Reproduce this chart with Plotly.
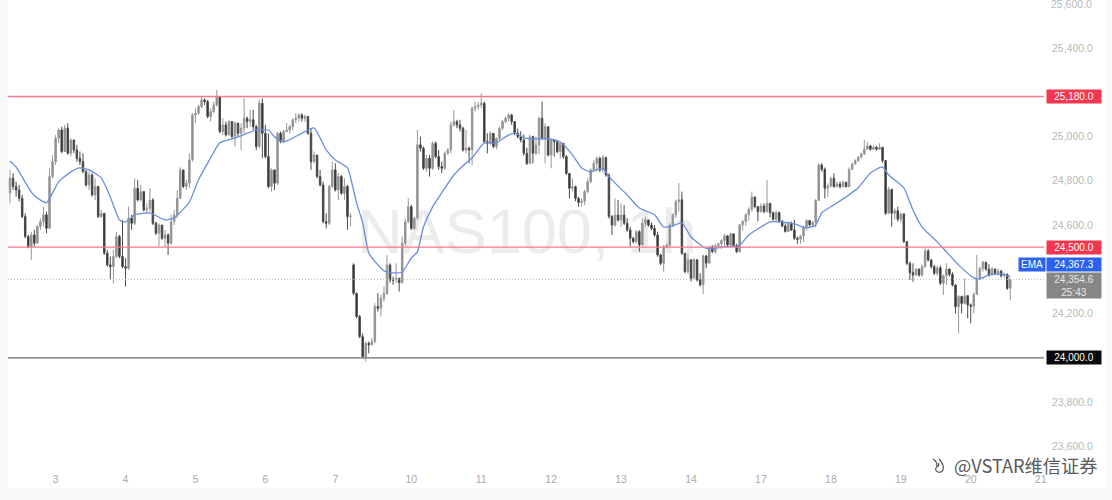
import plotly.graph_objects as go

closes = [24811,24774,24758,24721,24638,24548,24503,24555,24518,24593,
24615,24646,24585,24819,24886,24992,25029,24932,25037,24924,
24984,24939,24901,24886,24841,24781,24826,24736,24774,24638,
24653,24473,24420,24412,24458,24548,24458,24412,24405,24631,
24608,24766,24713,24751,24668,24676,24713,24608,24563,24600,
24540,24555,24518,24615,24646,24721,24849,24774,24789,24894,
25097,25105,25135,25165,25157,25090,25112,25142,25180,25022,
25052,25007,25067,25000,25060,25014,25037,25082,25067,25075,
25044,24954,25150,25014,24909,24774,24849,24789,25014,24977,
25022,25029,25044,25075,25082,25097,25082,25090,25014,24886,
24916,24819,24781,24615,24608,24774,24849,24758,24819,24743,
24774,24638,24641,
24292,24187,24096,24006,24066,24059,24074,24232,24224,24269,24292,
24420,24352,24352,24360,24340,24518,24615,24683,24585,24631,
24962,24947,24856,24901,24856,24969,24909,24864,24856,24924,
24939,25052,25067,25052,25037,24939,24947,24939,25127,25135,
25142,25150,24977,24969,25014,24954,24992,25037,25067,25082,
25097,25067,
25014,24999,24984,24924,24878,24999,24924,24961,25082,24991,
25044,24916,24984,24976,24931,24969,24909,24833,24766,24773,
24720,24702,24708,24751,24796,24848,24878,24901,24848,24904,
24826,24638,24600,24645,24623,24645,24608,24577,24540,24525,
24570,24510,24608,24623,24600,24585,24555,24465,24427,24502,
24510,24600,
24646,24706,24714,24473,24390,24443,24360,24443,24352,24330,
24461,24428,24500,24480,24506,24515,24530,24551,24510,24560,
24506,24480,24601,24616,24646,24671,24726,24683,24661,24686,
24661,24698,24656,24626,24656,24616,24596,24571,24608,24578,
24540,24536,24551,24590,24620,24601,24611,24711,
24871,24851,24766,24776,24811,24773,24785,24773,24793,24773,
24851,24875,24890,24906,24921,24943,24957,24942,24951,24942,
24951,24891,24653,24761,24653,24665,24626,24650,24525,24427,
24385,
24374,24401,24374,24412,24483,24442,24412,24382,24407,24337,
24371,24401,24377,24329,24231,24277,24246,24281,24239,24233,
24287,24356,24404,24432,24401,24374,24401,24382,24392,24371,
24377,24314,24354.6]

highs = [24849,24834,24796,24781,24736,24653,24555,24570,24578,24600,
24630,24683,24661,24856,24916,25007,25037,25044,25052,25060,
24992,24984,24962,24932,24924,24849,24841,24834,24811,24736,
24668,24646,24488,24458,24488,24570,24555,24623,24450,24683,
24646,24811,24804,24781,24751,24698,24766,24721,24615,24608,
24600,24578,24563,24646,24668,24758,24861,24811,24804,24924,
25105,25127,25142,25180,25172,25165,25127,25157,25210,25180,
25082,25067,25075,25067,25067,25052,25060,25172,25090,25120,
25120,25052,25165,25172,25052,25014,24856,24849,25022,25022,
25029,25060,25052,25082,25105,25105,25105,25097,25093,25037,
24932,24916,24849,24796,24653,24781,24886,24879,24834,24826,
24811,24781,24653,
24427,24292,24194,24111,24074,24074,24089,24247,24292,24284,24322,
24465,24427,24367,24427,24360,24548,24630,24721,24691,24638,
25029,24999,24954,24917,24917,24977,24977,24939,24886,24932,
24947,25067,25120,25075,25075,25044,25029,24954,25135,25157,
25157,25195,25157,25014,25022,24992,24992,25044,25075,25090,
25105,25102,
25067,25036,25024,25009,24949,25009,25003,24999,25089,25157,
25059,25044,24991,24979,24976,24976,24964,24916,24833,24811,
24778,24728,24720,24758,24811,24856,24893,24909,24909,24916,
24909,24833,24645,24720,24713,24698,24690,24630,24592,24547,
24577,24577,24630,24638,24623,24612,24600,24570,24468,24510,
24517,24608,
24653,24714,24789,24751,24473,24473,24413,24450,24428,24382,
24465,24461,24506,24510,24515,24521,24536,24560,24555,24566,
24563,24515,24605,24623,24653,24680,24751,24729,24686,24698,
24698,24804,24698,24661,24665,24661,24623,24608,24616,24616,
24623,24548,24555,24596,24626,24623,24619,24717,
24879,24879,24860,24788,24818,24833,24796,24796,24800,24796,
24860,24881,24897,24912,24927,24984,24976,24961,24960,24957,
24969,24946,24891,24773,24751,24675,24683,24656,24653,24525,
24435,
24427,24404,24404,24423,24495,24492,24447,24420,24417,24417,
24377,24427,24404,24386,24332,24284,24281,24359,24284,24246,
24296,24465,24412,24438,24432,24423,24412,24404,24404,24397,
24386,24382,24359]

lows = [24698,24758,24728,24706,24631,24540,24495,24442,24503,24518,
24578,24593,24563,24585,24811,24871,24969,24924,24932,24917,
24909,24924,24886,24871,24834,24774,24758,24728,24713,24631,
24631,24465,24412,24352,24337,24450,24450,24405,24322,24397,
24578,24600,24706,24706,24661,24653,24661,24600,24555,24503,
24533,24503,24465,24510,24600,24631,24721,24766,24758,24766,
24886,25060,25097,25127,25142,25082,25067,25105,25135,25014,
25007,25000,25014,24992,24954,25000,24939,25014,25037,25044,
25029,24939,24947,24901,24901,24766,24751,24758,24781,24969,
24969,25022,25014,25029,25060,25067,25067,25067,25007,24849,
24879,24811,24774,24608,24585,24600,24766,24751,24713,24736,
24713,24578,24593,
24284,24179,24089,23999,23983,24021,24059,24066,24209,24187,24254,
24284,24340,24330,24337,24299,24337,24503,24608,24578,24578,
24623,24932,24849,24841,24819,24849,24901,24849,24834,24849,
24917,24924,25044,25037,25022,24932,24924,24879,24871,25112,
25120,25127,24969,24924,24962,24947,24942,24984,25029,25060,
25067,25052,
25006,24991,24973,24913,24871,24874,24878,24916,24919,24984,
24878,24909,24856,24909,24924,24901,24898,24826,24720,24751,
24708,24683,24683,24690,24743,24788,24841,24841,24838,24838,
24818,24630,24555,24592,24615,24592,24600,24570,24502,24517,
24517,24480,24507,24592,24592,24577,24547,24457,24419,24389,
24495,24502,
24593,24631,24661,24465,24382,24379,24345,24364,24345,24322,
24289,24405,24455,24473,24470,24491,24491,24506,24503,24500,
24500,24473,24476,24575,24596,24620,24661,24676,24616,24656,
24653,24656,24635,24620,24616,24611,24590,24566,24581,24573,
24533,24515,24515,24524,24575,24590,24590,24590,
24710,24841,24720,24728,24770,24770,24770,24766,24770,24770,
24776,24851,24875,24886,24901,24916,24939,24936,24939,24936,
24939,24881,24645,24650,24593,24626,24615,24611,24520,24419,
24352,
24344,24371,24367,24367,24408,24435,24404,24374,24371,24329,
24284,24329,24367,24322,24201,24111,24201,24242,24179,24156,
24201,24284,24352,24389,24392,24367,24377,24374,24371,24362,
24362,24307,24261]

first_open = 24745
session_open_bar = 113
session_open = 24420

ema_bars = [0,2,4,7,9,12,14,16,20,23,26,30,33,36,38,41,46,51,54,59,62,66,69,74,81,85,87,90,95,100,
104,107,111,113,114,116,118,121,123,126,129,132,134,136,139,142,146,150,152,156,160,163,166,169,172,
177,181,185,188,191,195,197,203,207,212,215,218,221,224,228,230,234,240,243,247,250,253,258,262,265,
267,271,275,279,283,287,289,294,297,300,305,308,312,317,319,322,326,329]
ema_values = [24889,24862,24817,24749,24722,24700,24745,24795,24840,24858,24849,24813,24727,24623,24614,24646,24655,24623,24632,24704,
24804,24903,24971,24993,25029,25029,24998,24975,25007,25038,24939,24894,24858,24758,24700,24610,24474,24420,24393,24384,
24388,24451,24479,24591,24682,24745,24826,24880,24903,24971,24971,24998,25016,24993,24989,24989,24975,24917,24858,24840,
24858,24817,24736,24677,24646,24591,24596,24610,24546,24501,24492,24501,24510,24555,24591,24614,24614,24605,24587,24600,
24655,24691,24727,24768,24835,24862,24826,24768,24668,24591,24524,24479,24420,24361,24357,24375,24379,24367.3]

day_bars = [15,38,61,84,107,132,155,178,201,224,247,270,293,316,339]
day_labels = ["3","4","5","6","7","10","11","12","13","14","17","18","19","20","21"]
price_ticks = [25400,25000,24800,24600,24200,23800,23600]
top_price_tick = 25600
support_resistance = [25180, 24500]
floor_level = 24000
ema_last = 24367.3
last_price = 24354.6
countdown = "25:43"
symbol_text = "NAS100, 1h"
footer_text = "@VSTAR维信证券"

opens = [first_open] + closes[:-1]
opens[session_open_bar] = session_open
bars = list(range(len(closes)))

W, H = 1112, 500
L, R, T, B = 8, 1044, 0, 466
px = lambda v: (v - L) / (R - L)
py = lambda v: 1 - (v - T) / (B - T)

fig = go.Figure()
fig.add_trace(go.Candlestick(
    x=bars, open=opens, high=highs, low=lows, close=closes,
    increasing=dict(line=dict(color="#979797", width=1), fillcolor="#8c8c8c"),
    decreasing=dict(line=dict(color="#4a4a4a", width=1), fillcolor="#2e2e2e"),
    whiskerwidth=0, showlegend=False, hoverinfo="skip"))
fig.add_trace(go.Scatter(x=ema_bars, y=ema_values, mode="lines",
    line=dict(color="#6a8ddb", width=1.3, shape="spline", smoothing=0.5),
    showlegend=False, hoverinfo="skip"))

shapes = [
    dict(type="rect", xref="paper", yref="paper", x0=px(8), x1=px(1105), y0=py(0), y1=py(488),
         fillcolor="white", line=dict(width=0), layer="below"),
    dict(type="rect", xref="paper", yref="paper", x0=px(362), x1=px(692), y0=py(190), y1=py(260),
         fillcolor="rgba(0,0,0,0)", line=dict(width=0), layer="below",
         label=dict(text=symbol_text, font=dict(family="Liberation Sans", size=63, color="#ececec"),
                    textposition="middle center")),
]
for lv in support_resistance:
    shapes.append(dict(type="line", xref="paper", yref="y", x0=0, x1=1, y0=lv, y1=lv,
                       line=dict(color="#f27a8b", width=1.4)))
shapes.append(dict(type="line", xref="paper", yref="y", x0=0, x1=1, y0=floor_level, y1=floor_level,
                   line=dict(color="#6b6b6b", width=1.4)))
shapes.append(dict(type="line", xref="paper", yref="y", x0=0, x1=1, y0=last_price, y1=last_price,
                   line=dict(color="#bdbdbd", width=1, dash="1px,2px")))
# small footer logo
shapes.append(dict(type="path", xref="paper", yref="paper", xsizemode="pixel", ysizemode="pixel",
                   xanchor=px(938), yanchor=py(466),
                   path="M -5 7 C -1 5 0 0 -2 -2 C -4 -6 3 -8 5 -4 C 6 -1 5 3 1 7 M 0 -1 L 1 3",
                   line=dict(color="#444", width=1.1)))

anns = []
def tag(y, text, bg, color="white", yshift=0, x=1, width=54, xshift=2, height=13):
    anns.append(dict(xref="paper", yref="y", x=x, y=y, text=text, showarrow=False,
                     xanchor="left", yanchor="middle", xshift=xshift, yshift=yshift,
                     bgcolor=bg, width=width, height=height, align="center", borderpad=0,
                     font=dict(family="Liberation Sans", size=10, color=color)))

for lv in support_resistance:
    tag(lv, f"{lv:,.1f}", "#f2374f")
tag(floor_level, f"{floor_level:,.1f}", "#0a0a0a")
tag(ema_last, f"{ema_last:,.1f}", "#2a62f0", yshift=12)
tag(ema_last, "EMA", "#2a62f0", yshift=12, x=1, width=26, xshift=-26)
tag(last_price, f"{last_price:,.1f}<br>{countdown}", "#868686", color="#e8e8e8", yshift=-6, height=25)
anns.append(dict(xref="paper", yref="y", x=1, y=top_price_tick, text=f"{top_price_tick:,.1f}", showarrow=False,
                 xanchor="left", yanchor="middle", xshift=6, borderpad=0,
                 font=dict(family="Liberation Sans", size=10.5, color="#b8b8b8")))
anns.append(dict(xref="paper", yref="paper", x=px(952), y=py(465), text=footer_text, showarrow=False,
                 xanchor="left", yanchor="middle",
                 font=dict(family="Noto Sans CJK SC", size=18.2, color="#5a5a5a")))

fig.update_layout(
    width=W, height=H, margin=dict(l=L, r=W - R, t=T, b=H - B, pad=0),
    paper_bgcolor="#fafafa", plot_bgcolor="rgba(0,0,0,0)",
    shapes=shapes, annotations=anns, showlegend=False,
    xaxis=dict(range=[-0.66, 340.1], rangeslider=dict(visible=False), showgrid=False, zeroline=False,
               tickmode="array", tickvals=day_bars, ticktext=day_labels, ticks="", showline=False,
               tickfont=dict(family="Liberation Sans", size=10.5, color="#a8a8a8"), ticklabelstandoff=5),
    yaxis=dict(range=[23512, 25616], side="right", showgrid=False, zeroline=False, showline=False,
               tickmode="array", tickvals=price_ticks, ticktext=[f"{v:,.1f}" for v in price_ticks],
               ticks="", tickfont=dict(family="Liberation Sans", size=10.5, color="#b8b8b8"),
               ticklabelstandoff=7),
)
fig.write_html("out.html", config=dict(displayModeBar=False),
               post_script="document.body.style.margin='0';document.body.style.background='#fafafa';")
